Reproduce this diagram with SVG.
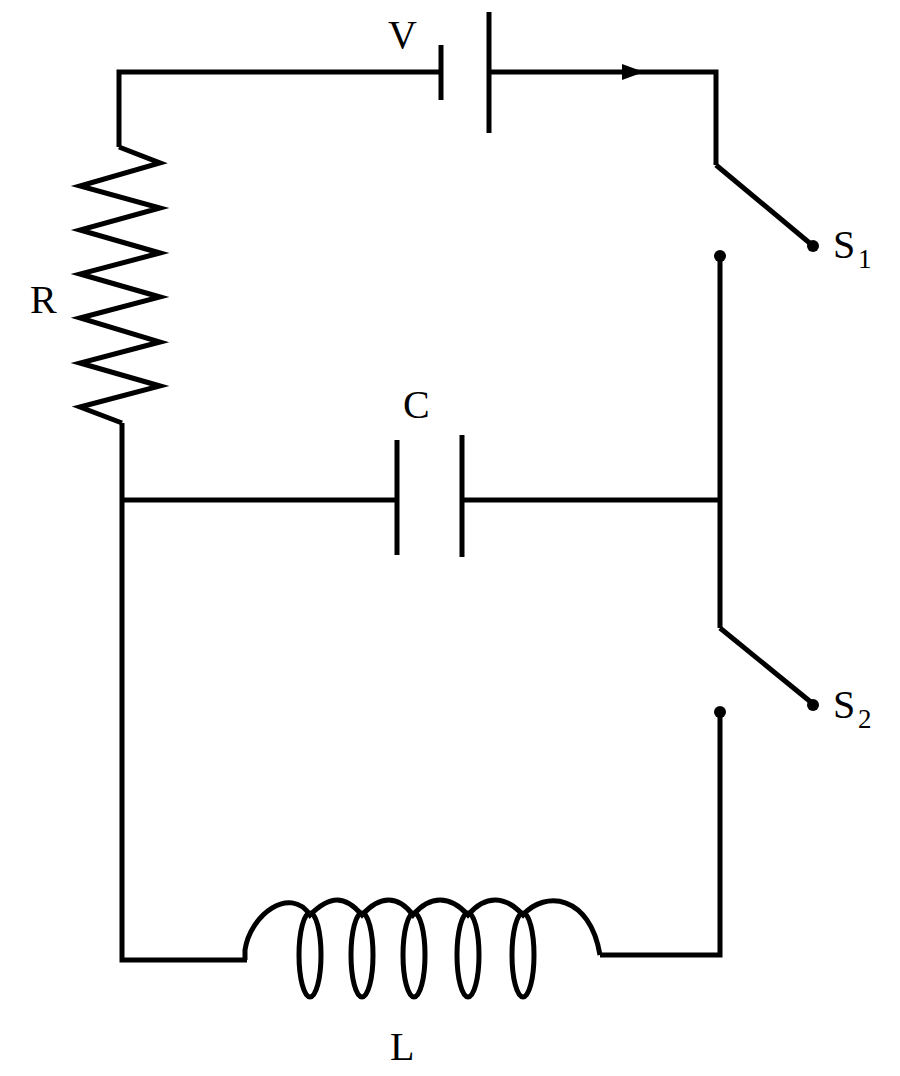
<svg xmlns="http://www.w3.org/2000/svg" width="900" height="1076" viewBox="0 0 900 1076">
<style>
.w{fill:none;stroke:#000;stroke-width:5;stroke-linejoin:miter}
.t{font-family:"Liberation Serif",serif;font-size:40px;fill:#000}
.s{font-family:"Liberation Serif",serif;font-size:27px;fill:#000}
</style>
<rect width="900" height="1076" fill="#fff"/>
<g id="connectors">
<path class="w" d="M441,72 H119 V147"/>
<path class="w" d="M489,72 H716 V165"/>
<path class="w" d="M122,423 V960 H247"/>
<path class="w" d="M720,256 V628"/>
<path class="w" d="M720,712 V955 H600"/>
<path class="w" d="M122,500 H397"/>
<path class="w" d="M462,500 H720"/>
<polygon points="622,64 644,72 622,80" fill="#000"/>
</g>
<g id="battery"><line class="w" x1="441" y1="45" x2="441" y2="100"/><line class="w" x1="489" y1="12" x2="489" y2="133"/><text class="t" x="388" y="48">V</text></g>
<g id="resistor"><path class="w" d="M119,147 L160,163 L80,186 L160,208 L80,230 L160,253 L80,274 L160,297 L80,318 L160,342 L80,363 L160,386 L80,407 L122,423"/><text class="t" x="30" y="313">R</text></g>
<g id="capacitor"><line class="w" x1="397" y1="440" x2="397" y2="555"/><line class="w" x1="462" y1="435" x2="462" y2="557"/><text class="t" x="403" y="418">C</text></g>
<g id="switch1"><path class="w" d="M716,165 L812,245"/><circle cx="813" cy="246" r="6"/><circle cx="720" cy="256" r="6"/><text class="t" x="833" y="258">S</text><text class="s" x="858" y="268">1</text></g>
<g id="switch2"><path class="w" d="M720,628 L812,703"/><circle cx="813" cy="705" r="6"/><circle cx="720" cy="712" r="6"/><text class="t" x="833" y="718">S</text><text class="s" x="858" y="728">2</text></g>
<g id="inductor">
<path class="w" d="M245,960 V950 C250,915 290,885 310,915 C330,895 345,895 362,915 C380,895 398,895 413,915 C430,895 450,895 468,915 C485,895 505,895 523,915 C545,890 590,895 600,955"/>
<ellipse class="w" cx="310" cy="955" rx="11" ry="42"/>
<ellipse class="w" cx="362" cy="955" rx="11" ry="42"/>
<ellipse class="w" cx="414" cy="955" rx="11" ry="42"/>
<ellipse class="w" cx="468" cy="955" rx="11" ry="42"/>
<ellipse class="w" cx="523" cy="955" rx="11" ry="42"/>
<text class="t" x="390" y="1060">L</text>
</g>
</svg>
